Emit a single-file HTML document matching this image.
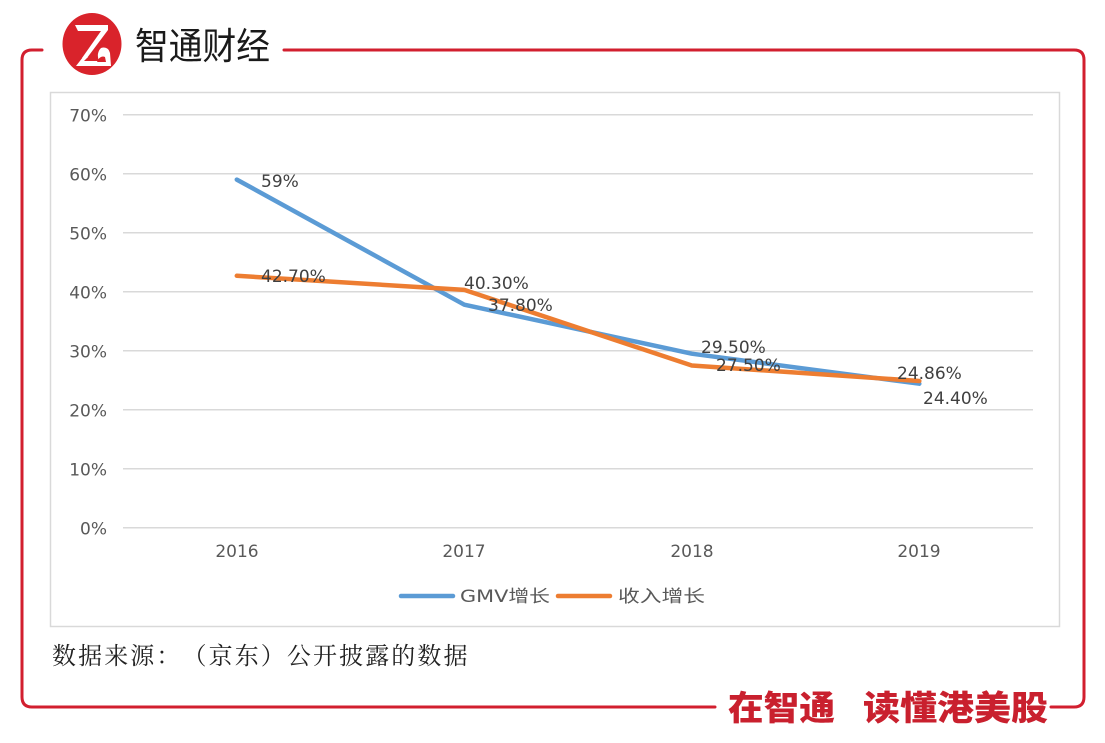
<!DOCTYPE html>
<html>
<head>
<meta charset="utf-8">
<style>
  html, body { margin:0; padding:0; background:#ffffff; }
  body { width:1105px; height:743px; overflow:hidden; }
  svg { display:block; }
  .ax { font-family:"DejaVu Sans","Liberation Sans",sans-serif; font-size:17px; fill:#595959; }
  .dl { font-family:"DejaVu Sans","Liberation Sans",sans-serif; font-size:17px; fill:#404040; }
  .lg { font-family:"DejaVu Sans","Noto Sans CJK SC",sans-serif; font-size:17px; fill:#595959; }
</style>
</head>
<body>
<svg width="1105" height="743" viewBox="0 0 1105 743" xmlns="http://www.w3.org/2000/svg">
  <rect x="0" y="0" width="1105" height="743" fill="#ffffff"/>

  <!-- red frame -->
  <g fill="none" stroke="#d21f2f" stroke-width="3" stroke-linecap="round">
    <path d="M42,50 L32,50 Q22,50 22,60 L22,697 Q22,707 32,707 L715,707"/>
    <path d="M1051,707 L1074,707 Q1084,707 1084,697 L1084,60 Q1084,50 1074,50 L284,50"/>
  </g>

  <!-- logo -->
  <ellipse cx="92" cy="44" rx="29.5" ry="31" fill="#d9232b"/>
  <path d="M75,25 L108,25 L108,30 L87,58 L82,58 L101,31 L78,31 Z" fill="#ffffff"/>
  <path d="M76,66 L83,57 L88,57 L84,61 L99,61 Q96,53 101,48 Q108,46 110,53 L111,66 Z" fill="#ffffff"/>
  <path d="M97,62 Q100,55 105,57 L106,62 Z" fill="#d9232b"/>

  <!-- title -->
  <text x="135" y="59" font-family="'Noto Sans CJK SC','WenQuanYi Zen Hei',sans-serif" font-size="37" font-weight="400" fill="#1a1a1a" textLength="135" lengthAdjust="spacingAndGlyphs">智通财经</text>

  <!-- chart frame -->
  <rect x="50.5" y="92.5" width="1009" height="534" fill="#ffffff" stroke="#d9d9d9" stroke-width="1.5"/>

  <!-- gridlines -->
  <g stroke="#d9d9d9" stroke-width="1.5">
    <line x1="123" y1="114.7" x2="1033" y2="114.7"/>
    <line x1="123" y1="173.7" x2="1033" y2="173.7"/>
    <line x1="123" y1="232.7" x2="1033" y2="232.7"/>
    <line x1="123" y1="291.7" x2="1033" y2="291.7"/>
    <line x1="123" y1="350.7" x2="1033" y2="350.7"/>
    <line x1="123" y1="409.7" x2="1033" y2="409.7"/>
    <line x1="123" y1="468.7" x2="1033" y2="468.7"/>
    <line x1="123" y1="527.7" x2="1033" y2="527.7"/>
  </g>

  <!-- y labels -->
  <g class="ax" text-anchor="end">
    <text x="107" y="121.5">70%</text>
    <text x="107" y="180.5">60%</text>
    <text x="107" y="239.5">50%</text>
    <text x="107" y="298.5">40%</text>
    <text x="107" y="357.5">30%</text>
    <text x="107" y="416.5">20%</text>
    <text x="107" y="475.5">10%</text>
    <text x="107" y="534.5">0%</text>
  </g>

  <!-- x labels -->
  <g class="ax" text-anchor="middle">
    <text x="237" y="557">2016</text>
    <text x="464" y="557">2017</text>
    <text x="692" y="557">2018</text>
    <text x="919" y="557">2019</text>
  </g>

  <!-- series -->
  <polyline points="236.8,179.6 464.3,304.7 691.8,353.7 919.3,383.7" fill="none" stroke="#5b9bd5" stroke-width="4.5" stroke-linejoin="round" stroke-linecap="round"/>
  <polyline points="236.8,275.8 464.3,289.9 691.8,365.5 919.3,381.0" fill="none" stroke="#ed7d31" stroke-width="4.5" stroke-linejoin="round" stroke-linecap="round"/>

  <!-- data labels -->
  <g class="dl">
    <text x="261" y="187">59%</text>
    <text x="261" y="282">42.70%</text>
    <text x="464" y="289">40.30%</text>
    <text x="488" y="311">37.80%</text>
    <text x="701" y="353">29.50%</text>
    <text x="716" y="371">27.50%</text>
    <text x="897" y="379">24.86%</text>
    <text x="923" y="404">24.40%</text>
  </g>

  <!-- legend -->
  <line x1="401" y1="596" x2="453" y2="596" stroke="#5b9bd5" stroke-width="4.5" stroke-linecap="round"/>
  <text class="lg" x="460" y="602" textLength="90" lengthAdjust="spacingAndGlyphs">GMV增长</text>
  <line x1="558" y1="596" x2="610" y2="596" stroke="#ed7d31" stroke-width="4.5" stroke-linecap="round"/>
  <text class="lg" x="618" y="602" textLength="87" lengthAdjust="spacingAndGlyphs">收入增长</text>

  <!-- source -->
  <text y="664" font-family="'Noto Serif CJK SC','Liberation Serif',serif" font-size="24" fill="#222222" x="52 78.1 104.2 130.3 156.4 182.5 208.6 234.7 260.8 286.9 313 339.1 365.2 391.3 417.4 443.5">数据来源：（京东）公开披露的数据</text>

  <!-- slogan -->
  <g font-family="'Noto Sans CJK SC','WenQuanYi Zen Hei',sans-serif" font-size="34" font-weight="900" fill="#c9202e">
    <text x="728" y="720" textLength="107" lengthAdjust="spacingAndGlyphs">在智通</text>
    <text x="863" y="720" textLength="185" lengthAdjust="spacingAndGlyphs">读懂港美股</text>
  </g>
</svg>
</body>
</html>
